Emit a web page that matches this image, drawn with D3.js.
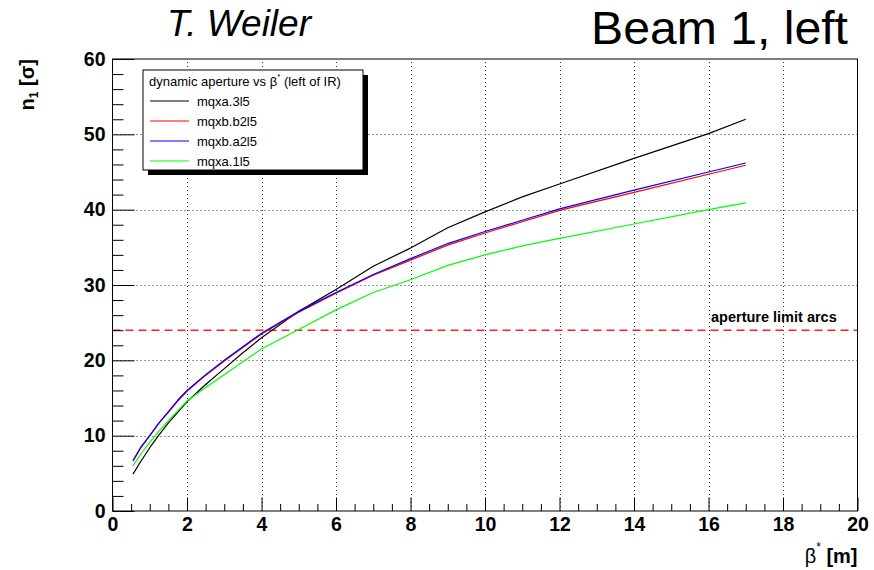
<!DOCTYPE html>
<html>
<head>
<meta charset="utf-8">
<script src="https://cdn.jsdelivr.net/npm/d3@7"></script>
<style>
  html, body { margin: 0; padding: 0; background: #fff; }
  svg { display: block; font-family: "Liberation Sans", Arial, Helvetica, sans-serif; }
</style>
</head>
<body>
<svg id="chart" width="874" height="570"></svg>
<script>
// beta* values (m) at which the aperture was computed
const betaStar = [0.55, 0.75, 1, 1.25, 1.5, 1.75, 2, 2.5, 3, 3.5, 4, 5, 6, 7, 8, 9, 10, 11, 12, 14, 16, 17];

// n1 aperture (sigma) per magnet
const mqxa3l5  = [4.9, 6.5, 8.4, 10.1, 11.7, 13.1, 14.5, 16.8, 18.9, 21.0, 23.0, 26.5, 29.4, 32.5, 34.9, 37.6, 39.7, 41.7, 43.4, 46.8, 50.1, 52.0];
const mqxbb2l5 = [6.6, 8.3, 10.0, 11.7, 13.1, 14.6, 15.9, 18.0, 19.9, 21.7, 23.5, 26.4, 28.9, 31.3, 33.3, 35.3, 36.9, 38.4, 39.9, 42.3, 44.7, 45.9];
const mqxba2l5 = [6.7, 8.4, 10.0, 11.7, 13.2, 14.7, 16.0, 18.1, 20.0, 21.8, 23.6, 26.5, 29.0, 31.4, 33.5, 35.5, 37.1, 38.6, 40.1, 42.6, 45.0, 46.2];
const mqxa1l5  = [6.0, 7.5, 9.1, 10.6, 12.0, 13.3, 14.6, 16.4, 18.1, 19.8, 21.5, 24.1, 26.7, 29.0, 30.7, 32.6, 34.0, 35.2, 36.2, 38.1, 40.0, 40.9];

const seriesNames  = ["mqxa.3l5", "mqxb.b2l5", "mqxb.a2l5", "mqxa.1l5"];
const seriesValues = [mqxa3l5, mqxbb2l5, mqxba2l5, mqxa1l5];
const seriesColors = ["#000000", "#ff0000", "#0000ff", "#00ff00"];

// arc aperture limit
const arcLimit = 24;

const xTicks = [0, 2, 4, 6, 8, 10, 12, 14, 16, 18, 20];
const yTicks = [0, 10, 20, 30, 40, 50, 60];

const svg = d3.select("#chart");
const x = d3.scaleLinear().domain([0, 20]).range([112.5, 857.5]);
const y = d3.scaleLinear().domain([0, 60]).range([511, 59]);

// frame background
svg.append("rect")
  .attr("x", x(0)).attr("y", y(60))
  .attr("width", x(20) - x(0)).attr("height", y(0) - y(60))
  .attr("fill", "#fff");

// dotted grid
const grid = svg.append("g").attr("stroke", "#333").attr("stroke-width", 1)
  .attr("stroke-dasharray", "1,3");
grid.selectAll("line.gx").data(xTicks.slice(1, -1)).join("line")
  .attr("x1", d => Math.round(x(d)) + 0.5).attr("x2", d => Math.round(x(d)) + 0.5)
  .attr("y1", y(0)).attr("y2", y(60));
grid.selectAll("line.gy").data(yTicks.slice(1, -1)).join("line")
  .attr("y1", d => Math.round(y(d)) + 0.5).attr("y2", d => Math.round(y(d)) + 0.5)
  .attr("x1", x(0)).attr("x2", x(20));

// aperture limit
svg.append("line")
  .attr("x1", x(0)).attr("x2", x(20))
  .attr("y1", y(arcLimit)).attr("y2", y(arcLimit))
  .attr("stroke", "#ff2020").attr("stroke-width", 1.5)
  .attr("stroke-dasharray", "8,5");
svg.append("text")
  .attr("x", 711).attr("y", y(arcLimit) - 8)
  .attr("font-size", 14.5).attr("font-weight", "bold")
  .text("aperture limit arcs");

// curves
const line = d3.line().x(d => x(d[0])).y(d => y(d[1]));
seriesValues.forEach((vals, i) => {
  svg.append("path")
    .datum(betaStar.map((b, j) => [b, vals[j]]))
    .attr("fill", "none")
    .attr("stroke", seriesColors[i])
    .attr("stroke-width", 1.2)
    .attr("stroke-linejoin", "round")
    .attr("d", line);
});

// axes
const axisFont = g => g.selectAll("text")
  .attr("font-size", 19.5).attr("font-weight", "bold")
  .attr("font-family", "'Liberation Sans', Arial, sans-serif").attr("fill", "#000");

const xMinor = d3.range(0, 20.01, 0.5).filter(v => v % 2 !== 0);
svg.append("g").attr("transform", `translate(0,${y(0)})`)
  .call(d3.axisBottom(x).tickValues(xMinor).tickSize(-7).tickFormat(""))
  .call(g => g.select(".domain").remove());
svg.append("g").attr("transform", `translate(0,${y(0)})`)
  .call(d3.axisBottom(x).tickValues(xTicks).tickSize(-13.5).tickPadding(6.5).tickFormat(d3.format("d")))
  .call(g => g.select(".domain").remove())
  .call(axisFont);

const yMinor = d3.range(0, 60.01, 2).filter(v => v % 10 !== 0);
svg.append("g").attr("transform", `translate(${x(0)},0)`)
  .call(d3.axisLeft(y).tickValues(yMinor).tickSize(-11).tickFormat(""))
  .call(g => g.select(".domain").remove());
svg.append("g").attr("transform", `translate(${x(0)},0)`)
  .call(d3.axisLeft(y).tickValues(yTicks).tickSize(-22).tickPadding(7).tickFormat(d3.format("d")))
  .call(g => g.select(".domain").remove())
  .call(axisFont);

// frame
svg.append("rect")
  .attr("x", x(0)).attr("y", y(60))
  .attr("width", x(20) - x(0)).attr("height", y(0) - y(60))
  .attr("fill", "none").attr("stroke", "#000").attr("stroke-width", 1);

// axis titles
const yTitle = svg.append("text")
  .attr("transform", `translate(34,${y(60)}) rotate(-90)`)
  .attr("text-anchor", "end")
  .attr("font-size", 20).attr("font-weight", "bold");
yTitle.append("tspan").text("n");
yTitle.append("tspan").attr("font-size", 12).attr("dy", 4).text("1");
yTitle.append("tspan").attr("dy", -4).text(" [σ]");

const xTitle = svg.append("text")
  .attr("x", x(20)).attr("y", 563)
  .attr("text-anchor", "end")
  .attr("font-size", 20);
xTitle.append("tspan").attr("font-weight", "normal").text("β");
xTitle.append("tspan").attr("font-size", 12).attr("dy", -12).text("*");
xTitle.append("tspan").attr("font-weight", "bold").attr("dy", 12).text(" [m]");

// legend
const lg = svg.append("g");
const lx = 143, ly = 70, lw = 220, lh = 100;
lg.append("rect").attr("x", lx + 5).attr("y", ly + 5).attr("width", lw).attr("height", lh).attr("fill", "#000");
lg.append("rect").attr("x", lx).attr("y", ly).attr("width", lw).attr("height", lh)
  .attr("fill", "#fff").attr("stroke", "#000").attr("stroke-width", 1);
const head = lg.append("text").attr("x", 149).attr("y", 86).attr("font-size", 13);
head.append("tspan").text("dynamic aperture vs β");
head.append("tspan").attr("font-size", 8).attr("dy", -7).text("*");
head.append("tspan").attr("dy", 7).text(" (left of IR)");
seriesNames.forEach((name, i) => {
  const yy = 101 + i * 20;
  lg.append("line").attr("x1", 150).attr("x2", 189).attr("y1", yy).attr("y2", yy)
    .attr("stroke", seriesColors[i]).attr("stroke-width", 1.2);
  lg.append("text").attr("x", 197).attr("y", yy + 5).attr("font-size", 13).text(name);
});

// headings
svg.append("text").attr("x", 167).attr("y", 36)
  .attr("font-size", 36).attr("font-style", "italic")
  .attr("textLength", 144).attr("lengthAdjust", "spacingAndGlyphs")
  .text("T. Weiler");
svg.append("text").attr("x", 591).attr("y", 44)
  .attr("font-size", 46)
  .attr("textLength", 257).attr("lengthAdjust", "spacingAndGlyphs")
  .text("Beam 1, left");
</script>
</body>
</html>
